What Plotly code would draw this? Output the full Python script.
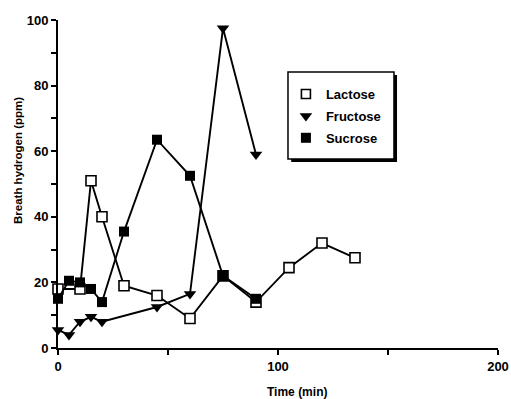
import plotly.graph_objects as go

lactose_t = [0, 10, 15, 20, 30, 45, 60, 75, 90, 105, 120, 135]
lactose_h = [18, 18, 51, 40, 19, 16, 9, 22, 14, 24.5, 32, 27.5]

fructose_t = [0, 5, 10, 15, 20, 45, 60, 75, 90]
fructose_h = [5.5, 4, 8, 9.5, 8, 12.5, 16.5, 97.5, 59]

sucrose_t = [0, 5, 10, 15, 20, 30, 45, 60, 75, 90]
sucrose_h = [15, 20.5, 20, 18, 14, 35.5, 63.5, 52.5, 22, 15]

x_ticks = [0, 100, 200]
y_ticks = [0, 20, 40, 60, 80, 100]

FONT = "Liberation Sans, Arial, Helvetica, sans-serif"

fig = go.Figure()

line = dict(color="black", width=1.9)
fig.add_trace(go.Scatter(x=lactose_t, y=lactose_h, mode="lines+markers", line=line,
                         marker=dict(symbol="square", size=10, color="white",
                                     line=dict(color="black", width=1.6)),
                         cliponaxis=False, showlegend=False))
fig.add_trace(go.Scatter(x=fructose_t, y=fructose_h, mode="lines+markers", line=line,
                         marker=dict(symbol="triangle-down", size=11, color="black"),
                         cliponaxis=False, showlegend=False))
fig.add_trace(go.Scatter(x=sucrose_t, y=sucrose_h, mode="lines+markers", line=line,
                         marker=dict(symbol="square", size=10, color="black"),
                         cliponaxis=False, showlegend=False))

# legend-only entries (markers without line)
fig.add_trace(go.Scatter(x=[None], y=[None], mode="markers", name="Lactose", legendgroup="a",
                         marker=dict(symbol="square", size=9, color="white",
                                     line=dict(color="black", width=1.6))))
fig.add_trace(go.Scatter(x=[None], y=[None], mode="markers", name="Fructose", legendgroup="b",
                         marker=dict(symbol="triangle-down", size=11, color="black")))
fig.add_trace(go.Scatter(x=[None], y=[None], mode="markers", name="Sucrose", legendgroup="c",
                         marker=dict(symbol="square", size=10, color="black")))

axis_common = dict(showgrid=False, zeroline=False, showline=True, linecolor="black",
                   linewidth=2, ticks="outside", ticklen=5, tickwidth=2, tickcolor="black",
                   automargin=False,
                   tickfont=dict(family=FONT, size=13, color="black", weight="bold"))

fig.update_xaxes(range=[0, 200], tickvals=x_ticks, ticktext=[str(v) for v in x_ticks],
                 minor=dict(tickvals=[50, 150], ticks="outside", ticklen=5, tickwidth=2,
                            tickcolor="black"),
                 **axis_common)
fig.update_yaxes(range=[0, 100], tickvals=y_ticks, ticktext=[str(v) for v in y_ticks],
                 minor=dict(tickvals=[10, 30, 50, 70, 90], ticks="outside", ticklen=5,
                            tickwidth=2, tickcolor="black"),
                 **axis_common)

fig.update_layout(
    width=511, height=399,
    margin=dict(l=58, r=13, t=20, b=51, autoexpand=False),
    plot_bgcolor="white", paper_bgcolor="white",
    showlegend=True,
    legend=dict(x=0.518, y=0.82, xanchor="left", yanchor="top",
                bgcolor="rgba(0,0,0,0)", borderwidth=0,
                font=dict(family=FONT, size=13, color="black", weight="bold"),
                itemwidth=30, tracegroupgap=2),
    shapes=[
        dict(type="rect", xref="paper", yref="paper",
             x0=0.530, x1=0.7705, y0=0.567, y1=0.8323,
             fillcolor="black", line=dict(width=0), layer="above"),
        dict(type="rect", xref="paper", yref="paper",
             x0=0.5227, x1=0.7636, y0=0.5762, y1=0.8415,
             fillcolor="white", line=dict(color="black", width=1.5), layer="above"),
    ],
    annotations=[
        dict(text="Time (min)", xref="paper", yref="paper", x=0.543, y=-0.134,
             xanchor="center", yanchor="middle", showarrow=False,
             font=dict(family=FONT, size=12, color="black", weight="bold")),
        dict(text="Breath hydrogen (ppm)", xref="paper", yref="paper", x=-0.091, y=0.573,
             textangle=-90, xanchor="center", yanchor="middle", showarrow=False,
             font=dict(family=FONT, size=11.5, color="black", weight="bold")),
    ],
)

fig.write_html("out.html", config={"displayModeBar": False},
               post_script="document.body.style.margin='0';document.body.style.overflow='hidden';")
